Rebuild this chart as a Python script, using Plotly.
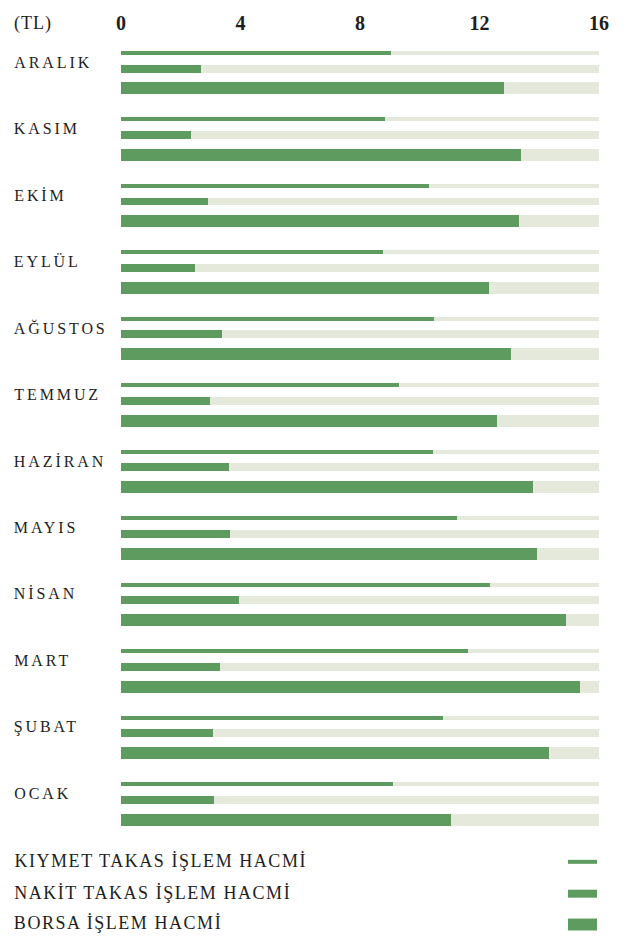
import plotly.graph_objects as go

months = ["ARALIK", "KASIM", "EKİM", "EYLÜL", "AĞUSTOS", "TEMMUZ",
          "HAZİRAN", "MAYIS", "NİSAN", "MART", "ŞUBAT", "OCAK"]
kiymet_takas = [9.05, 8.84, 10.31, 8.76, 10.47, 9.32, 10.46, 11.25, 12.34, 11.62, 10.78, 9.10]
nakit_takas = [2.69, 2.35, 2.92, 2.47, 3.37, 2.98, 3.63, 3.64, 3.95, 3.31, 3.07, 3.10]
borsa = [12.82, 13.39, 13.32, 12.33, 13.04, 12.57, 13.78, 13.92, 14.91, 15.38, 14.33, 11.04]
series_names = ["KIYMET TAKAS İŞLEM HACMİ", "NAKİT TAKAS İŞLEM HACMİ", "BORSA İŞLEM HACMİ"]
x_ticks = [0, 4, 8, 12, 16]
x_max = 16
unit_label = "(TL)"

GREEN = "#5e9b5e"
TRACK = "#e4e9dc"
TEXT = "#1e1e1e"
FONT = "Liberation Serif"
LS_MONTH = 2.9
LS_LEG = 1.55
LS_UNIT = 1.0

W, H = 627, 938
ML, MR, MT, MB = 121, 28, 40, 108
PW, PH = W - ML - MR, H - MT - MB
GROUP_PX = 66.8
FIRST_PX = 49  # center of first thin bar (page px)

offsets = [0.0, 0.235, 0.534]
widths = [0.06, 0.12, 0.18]
label_offset = 0.14

idx = list(range(len(months)))
fig = go.Figure()
all_series = [kiymet_takas, nakit_takas, borsa]

for s, vals in enumerate(all_series):
    ys = [i + offsets[s] for i in idx]
    fig.add_trace(go.Bar(
        y=ys, x=[x_max] * len(months), base=0, orientation="h",
        width=widths[s], marker=dict(color=TRACK, line=dict(width=0)),
        hoverinfo="skip", showlegend=False))
for s, vals in enumerate(all_series):
    ys = [i + offsets[s] for i in idx]
    fig.add_trace(go.Bar(
        y=ys, x=vals, base=0, orientation="h", name=series_names[s],
        width=widths[s], marker=dict(color=GREEN, line=dict(width=0)),
        showlegend=False))

y_top = (MT - FIRST_PX) / GROUP_PX
y_bot = (MT + PH - FIRST_PX) / GROUP_PX

annotations = []
lx = (12 - ML) / PW
for i, m in enumerate(months):
    annotations.append(dict(
        x=lx, xref="paper", y=i + label_offset, yref="y", text=m,
        showarrow=False, xanchor="left", yanchor="middle",
        xshift=len(m) * LS_MONTH / 2,
        font=dict(family=FONT, size=16, color=TEXT)))

def py(p):
    return (MT + PH - p) / PH

annotations.append(dict(
    x=lx, xref="paper", y=py(19), yref="paper", text=unit_label,
    showarrow=False, xanchor="left", yanchor="middle",
    xshift=len(unit_label) * LS_UNIT / 2,
    font=dict(family=FONT, size=18, color=TEXT)))

legend_text_y = [861, 893.5, 923.5]
legend_sw_y = [862, 894, 925]
sw_h = [4, 8, 12]
shapes = []
for s, name in enumerate(series_names):
    annotations.append(dict(
        x=lx, xref="paper", y=py(legend_text_y[s]), yref="paper", text=name,
        showarrow=False, xanchor="left", yanchor="middle",
        xshift=len(name) * LS_LEG / 2,
        font=dict(family=FONT, size=18, color=TEXT)))
    shapes.append(dict(
        type="rect", xref="paper", yref="paper",
        x0=(568 - ML) / PW, x1=(597 - ML) / PW,
        y0=py(legend_sw_y[s] + sw_h[s] / 2), y1=py(legend_sw_y[s] - sw_h[s] / 2),
        fillcolor=GREEN, line=dict(width=0)))

fig.update_layout(
    width=W, height=H, margin=dict(l=ML, r=MR, t=MT, b=MB),
    paper_bgcolor="white", plot_bgcolor="white",
    barmode="overlay", bargap=0,
    xaxis=dict(range=[0, x_max], side="top", tickvals=x_ticks,
               ticktext=[str(t) for t in x_ticks], showgrid=False,
               zeroline=False, showline=False, ticks="",
               ticklabelstandoff=9,
               tickfont=dict(family=FONT, size=20, color=TEXT, weight="bold")),
    yaxis=dict(range=[y_bot, y_top], showticklabels=False, showgrid=False,
               zeroline=False, showline=False, ticks=""),
    annotations=annotations, shapes=shapes,
)

post = """
document.body.style.margin = '0';
var anns = document.querySelectorAll('.annotation-text');
anns.forEach(function(e){
  var t = e.textContent;
  var ls = %s;
  if (t === '%s') ls = %s;
  else if (t.indexOf('HACM') >= 0) ls = %s;
  e.style.letterSpacing = ls + 'px';
});
""" % (LS_MONTH, unit_label, LS_UNIT, LS_LEG)
fig.write_html("out.html", post_script=post, config={"displayModeBar": False})
